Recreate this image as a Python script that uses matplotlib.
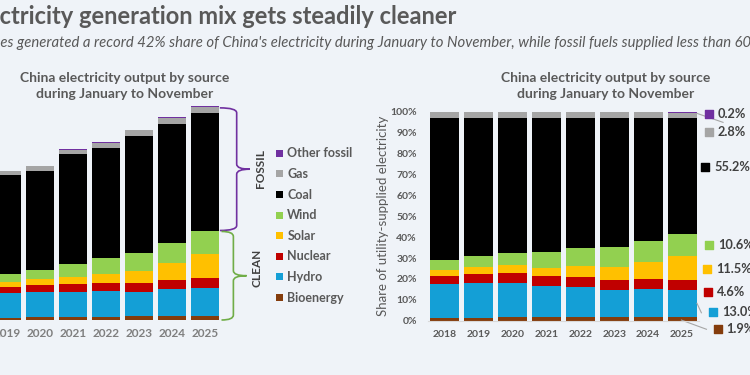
import matplotlib
matplotlib.use("Agg")
import matplotlib.pyplot as plt
import numpy as np
from matplotlib.path import Path
from matplotlib.patches import PathPatch, Rectangle

# China electricity output by source, January to November
years = ["2018", "2019", "2020", "2021", "2022", "2023", "2024", "2025"]
sources = ["Bioenergy", "Hydro", "Nuclear", "Solar", "Wind", "Coal", "Gas", "Other fossil"]
colors = ["#843c0c", "#149fd6", "#c00000", "#ffc000", "#92d050", "#000000", "#a5a5a5", "#7030a0"]

# share of utility-supplied electricity, %
bio = [1.3, 1.4, 1.8, 1.8, 1.9, 1.9, 1.9, 1.9]
hydro = [16.1, 16.5, 16.4, 14.8, 14.4, 12.9, 13.4, 13.0]
nuclear = [4.1, 4.4, 4.8, 4.6, 4.8, 4.7, 4.5, 4.6]
solar = [2.7, 3.4, 3.7, 4.2, 4.9, 6.2, 8.4, 11.5]
wind = [4.9, 5.4, 5.8, 7.5, 8.8, 9.7, 9.8, 10.6]
coal = [68.0, 66.0, 64.5, 64.2, 62.3, 61.4, 58.9, 55.2]
gas = [2.6, 2.7, 2.8, 2.7, 2.7, 3.0, 2.9, 2.8]
other = [0.2, 0.2, 0.2, 0.2, 0.2, 0.2, 0.2, 0.2]

# total output, TWh
total_twh = [5920, 6180, 6390, 7080, 7370, 7880, 8410, 8880]

shares = np.array([bio, hydro, nuclear, solar, wind, coal, gas, other])
output = shares * np.array(total_twh) / 100.0

BG = "#eff3f8"
TXT = "#595959"
DARK = "#404040"
FONT = "Lato"
plt.rcParams["font.family"] = [FONT, "DejaVu Sans"]

W, H = 750, 375
fig = plt.figure(figsize=(7.5, 3.75), dpi=100, facecolor=BG)


def px(x, y):
    return x / W, 1 - y / H


# titles, cropped on the left like the reference
title = "China's electricity generation mix gets steadily cleaner"
subtitle = ("Clean energy sources generated a record 42% share of China's electricity during "
            "January to November, while fossil fuels supplied less than 60% of the total")
renderer = fig.canvas.get_renderer()


def cropped_text(full, prefix, y, **kw):
    tmp = fig.text(0, 0, prefix, **kw)
    w = tmp.get_window_extent(renderer).width
    tmp.remove()
    fig.text(-w / W, y, full, va="center", ha="left", **kw)


cropped_text(title, "China's ele", px(0, 16)[1], fontsize=17, fontweight="bold", color=TXT)
cropped_text(subtitle, "Clean energy sourc", px(0, 43)[1], fontsize=10.7, style="italic", color=TXT)

sub_title = "China electricity output by source\nduring January to November"
fig.text(*px(125, 86), sub_title, ha="center", va="center", fontsize=10, fontweight="bold",
         color=TXT, linespacing=1.3)
fig.text(*px(606, 86), sub_title, ha="center", va="center", fontsize=10, fontweight="bold",
         color=TXT, linespacing=1.3)

x = np.arange(len(years))

# left: absolute output
ax1 = fig.add_axes([-42.5 / W, 55 / H, 264 / W, 214 / H])
ax1.set_facecolor(BG)
bottom = np.zeros(len(years))
for i in range(len(sources)):
    ax1.bar(x, output[i], bottom=bottom, width=0.85, color=colors[i], linewidth=0)
    bottom += output[i]
ax1.set_xlim(-0.5, 7.5)
ax1.set_ylim(0, 8880)
for s in ax1.spines.values():
    s.set_visible(False)
ax1.set_yticks([])
ax1.set_xticks(x, years)
ax1.tick_params(axis="x", length=0, pad=6, labelsize=8.5, labelcolor="#7f7f7f")
for lab in ax1.get_xticklabels():
    lab.set_fontweight("bold")

ry = 5 * 8880 / 214.0


def brace(ax, x0, x1, xtip, ybot, ytop, color):
    ymid = (ybot + ytop) / 2
    verts = [(x0, ytop), (x1, ytop), (x1, ytop - ry), (x1, ymid + ry),
             (x1, ymid), (xtip, ymid), (x1, ymid), (x1, ymid - ry),
             (x1, ybot + ry), (x1, ybot), (x0, ybot)]
    codes = [Path.MOVETO, Path.CURVE3, Path.CURVE3, Path.LINETO,
             Path.CURVE3, Path.CURVE3, Path.CURVE3, Path.CURVE3,
             Path.LINETO, Path.CURVE3, Path.CURVE3]
    ax.add_patch(PathPatch(Path(verts, codes), fill=False, edgecolor=color, lw=1.2, clip_on=False))


last_total = output[:, -1].sum()
clean_top = output[:5, -1].sum()
brace(ax1, 7.45, 7.96, 8.36, clean_top + 20, last_total - 60, "#7030a0")
brace(ax1, 7.5, 7.86, 8.26, 0, clean_top - 20, "#70ad47")
ax1.text(8.67, (clean_top + last_total) / 2, "FOSSIL", rotation=90, ha="center", va="center",
         fontsize=8.5, fontweight="bold", color=DARK, clip_on=False)
ax1.text(8.57, clean_top / 2 + 330, "CLEAN", rotation=90, ha="center", va="center",
         fontsize=8.5, fontweight="bold", color=DARK, clip_on=False)

# legend, top to bottom
for k, i in enumerate(range(len(sources) - 1, -1, -1)):
    yy = 153.3 + 20.6 * k
    sx, sy = px(279.3 - 3.5, yy + 3.5)
    fig.patches.append(Rectangle((sx, sy), 7 / W, 7 / H, transform=fig.transFigure,
                                 facecolor=colors[i], edgecolor="none"))
    fig.text(*px(287.3, yy), sources[i], ha="left", va="center", fontsize=9,
             fontweight="bold", color=TXT)

# right: share
ax2 = fig.add_axes([428 / W, 54.3 / H, 271 / W, 209 / H])
ax2.set_facecolor(BG)
bottom = np.zeros(len(years))
for i in range(len(sources)):
    ax2.bar(x, shares[i], bottom=bottom, width=0.855, color=colors[i], linewidth=0)
    bottom += shares[i]
ax2.set_xlim(-0.5, 7.5)
ax2.set_ylim(0, 100)
for s in ["top", "right", "left"]:
    ax2.spines[s].set_visible(False)
ax2.spines["bottom"].set_color("#d9d9d9")
ax2.set_yticks(range(0, 101, 10), [f"{v}%" for v in range(0, 101, 10)])
ax2.set_xticks(x, years)
ax2.tick_params(axis="both", length=0, labelsize=7.5, labelcolor=TXT)
ax2.tick_params(axis="x", pad=7)
ax2.tick_params(axis="y", pad=8)
for lab in ax2.get_xticklabels() + ax2.get_yticklabels():
    lab.set_fontweight("bold")
ax2.set_ylabel("Share of utility-supplied electricity", fontsize=9.5, color=TXT)
ax2.yaxis.set_label_coords(-0.145, 0.5)

# value labels for 2025
lab_y = [-4.1, 4.4, 13.6, 24.7, 36.2, 73.7, 90.1, 98.9]
sq_x = [8.05, 7.90, 7.76, 7.73, 7.80, 7.69, 7.79, 7.79]
txt_x = [8.31, 8.18, 8.03, 8.02, 8.08, 7.97, 8.05, 8.05]
for i in range(len(sources)):
    ax2.scatter([sq_x[i]], [lab_y[i]], marker="s", s=26, color=colors[i], clip_on=False, zorder=5)
    ax2.text(txt_x[i], lab_y[i], f"{shares[i][-1]:.1f}%", ha="left", va="center", fontsize=9.2,
             fontweight="bold", color=DARK, clip_on=False)
lead = "#a6a6a6"
ax2.plot([7.44, 8.21], [99.2, 94.9], color=lead, lw=0.8, clip_on=False)
ax2.plot([7.44, 7.57], [8.3, 3.8], color=lead, lw=0.8, clip_on=False)
ax2.plot([6.98, 7.72], [0.3, -4.1], color=lead, lw=0.8, clip_on=False)

fig.savefig("out.png", dpi=100, facecolor=BG)
